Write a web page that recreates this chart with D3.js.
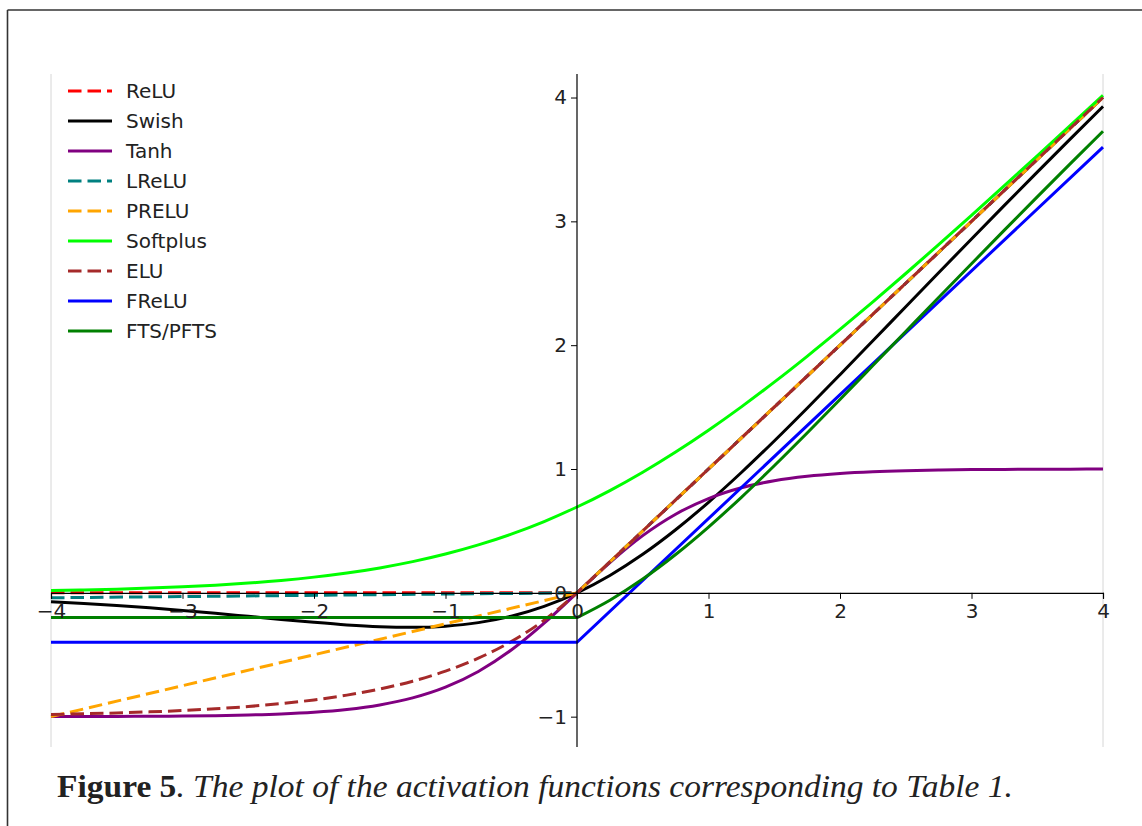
<!DOCTYPE html>
<html>
<head>
<meta charset="utf-8">
<script src="https://cdn.jsdelivr.net/npm/d3@7"></script>
<style>
  html, body { margin: 0; padding: 0; background: #fff; }
  svg { display: block; }
</style>
</head>
<body>
<svg id="chart" width="1142" height="826"></svg>
<script>
// ---------- data ----------
const xSmooth = [-4, -3.75, -3.5, -3.25, -3, -2.75, -2.5, -2.25, -2, -1.75, -1.5, -1.25, -1, -0.75, -0.5, -0.25,
                 0, 0.25, 0.5, 0.75, 1, 1.25, 1.5, 1.75, 2, 2.25, 2.5, 2.75, 3, 3.25, 3.5, 3.75, 4];

const swishY = [-0.0719, -0.0862, -0.1026, -0.1212, -0.1423, -0.1653, -0.1897, -0.2144, -0.2384, -0.2592, -0.2736, -0.2784, -0.2689, -0.2406, -0.1888, -0.1095,
                0, 0.1405, 0.3112, 0.5094, 0.7311, 0.9716, 1.2264, 1.4908, 1.7616, 2.0356, 2.3103, 2.5847, 2.8577, 3.1288, 3.3975, 3.6638, 3.9281];

const tanhY = [-0.9993, -0.9989, -0.9982, -0.9970, -0.9951, -0.9919, -0.9866, -0.9780, -0.9640, -0.9414, -0.9051, -0.8483, -0.7616, -0.6351, -0.4621, -0.2449,
               0, 0.2449, 0.4621, 0.6351, 0.7616, 0.8483, 0.9051, 0.9414, 0.9640, 0.9780, 0.9866, 0.9919, 0.9951, 0.9970, 0.9982, 0.9989, 0.9993];

const softplusY = [0.0181, 0.0233, 0.0298, 0.0381, 0.0486, 0.0619, 0.0789, 0.1002, 0.1269, 0.1602, 0.2014, 0.2519, 0.3133, 0.3869, 0.4741, 0.5759,
                   0.6931, 0.8259, 0.9741, 1.1369, 1.3133, 1.5019, 1.7014, 1.9102, 2.1269, 2.3502, 2.5789, 2.8119, 3.0486, 3.2881, 3.5298, 3.7733, 4.0181];

const eluY = [-0.9817, -0.9765, -0.9698, -0.9612, -0.9502, -0.9361, -0.9179, -0.8946, -0.8647, -0.8262, -0.7769, -0.7135, -0.6321, -0.5276, -0.3935, -0.2212,
              0, 0.25, 0.5, 0.75, 1, 1.25, 1.5, 1.75, 2, 2.25, 2.5, 2.75, 3, 3.25, 3.5, 3.75, 4];

const ftsY = [-0.2, -0.2, -0.2, -0.2, -0.2, -0.2, -0.2, -0.2, -0.2, -0.2, -0.2, -0.2, -0.2, -0.2, -0.2, -0.2,
              -0.2, -0.0595, 0.1112, 0.3094, 0.5311, 0.7716, 1.0264, 1.2908, 1.5616, 1.8356, 2.1103, 2.3847, 2.6577, 2.9288, 3.1975, 3.4638, 3.7281];

const xKink = [-4, 0, 4];
const reluY  = [0, 0, 4];
const lreluY = [-0.04, 0, 4];
const preluY = [-1, 0, 4];
const freluY = [-0.4, -0.4, 3.6];

const seriesNames  = ["ReLU", "Swish", "Tanh", "LReLU", "PRELU", "Softplus", "ELU", "FReLU", "FTS/PFTS"];
const seriesColors = ["#ff0000", "#000000", "#800080", "#008080", "#ffa500", "#00ff00", "#a52a2a", "#0000ff", "#008000"];
const seriesDashed = [true, false, false, true, true, false, true, false, false];
const seriesX      = [xKink, xSmooth, xSmooth, xKink, xKink, xSmooth, xSmooth, xKink, xSmooth];
const seriesY      = [reluY, swishY, tanhY, lreluY, preluY, softplusY, eluY, freluY, ftsY];
// "none" = straight segments, "smooth" = one smooth curve, "split" = smooth on each side of x = 0
const seriesCurve  = ["none", "smooth", "smooth", "none", "none", "smooth", "split", "none", "split"];

const xTicks = [-4, -3, -2, -1, 0, 1, 2, 3, 4];
const yTicks = [-1, 0, 1, 2, 3, 4];
const captionBold = "Figure 5";
const captionRest = ". The plot of the activation functions corresponding to Table 1.";

// ---------- drawing ----------
const svg = d3.select("#chart");
const x = d3.scaleLinear().domain([-4, 4]).range([51, 1103]);
const y = d3.scaleLinear().domain([-1.245, 4.19]).range([747, 74]);

// outer frame
svg.append("line").attr("x1", 7.5).attr("x2", 1142).attr("y1", 10).attr("y2", 10)
  .attr("stroke", "#333").attr("stroke-width", 1.6);
svg.append("line").attr("x1", 7.5).attr("x2", 7.5).attr("y1", 10).attr("y2", 826)
  .attr("stroke", "#333").attr("stroke-width", 1.6);

// faint side borders of plot area
[-4, 4].forEach(v => {
  svg.append("line").attr("x1", x(v)).attr("x2", x(v))
    .attr("y1", y.range()[1]).attr("y2", y.range()[0])
    .attr("stroke", "#d6d6d6").attr("stroke-width", 1);
});

// series
const dash = "13.5,6";
const smoothLine = d3.line().x(d => x(d[0])).y(d => y(d[1])).curve(d3.curveMonotoneX);
const straightLine = d3.line().x(d => x(d[0])).y(d => y(d[1])).curve(d3.curveLinear);
seriesNames.forEach((name, i) => {
  const pts = seriesX[i].map((xv, j) => [xv, seriesY[i][j]]);
  let d;
  if (seriesCurve[i] === "none") d = straightLine(pts);
  else if (seriesCurve[i] === "smooth") d = smoothLine(pts);
  else {
    const left = pts.filter(p => p[0] <= 0);
    const right = pts.filter(p => p[0] >= 0);
    d = smoothLine(left) + smoothLine(right).replace(/^M[^LC]*/, "");
  }
  svg.append("path")
    .attr("d", d)
    .attr("fill", "none")
    .attr("stroke", seriesColors[i])
    .attr("stroke-width", 3)
    .attr("stroke-dasharray", seriesDashed[i] ? dash : null);
});

// axes through origin
const fontAxis = "'DejaVu Sans', sans-serif";
const xAxis = d3.axisBottom(x).tickValues(xTicks).tickSize(6).tickPadding(5).tickFormat(d3.format("d"));
const gx = svg.append("g").attr("transform", `translate(0,${y(0)})`).call(xAxis);
gx.select(".domain").attr("stroke", "#000").attr("stroke-width", 1.2);
gx.selectAll(".tick line").attr("stroke", "#000").attr("stroke-width", 1);
gx.selectAll("text").attr("font-family", fontAxis).attr("font-size", 20).attr("fill", "#222");

const yAxis = d3.axisLeft(y).tickValues(yTicks).tickSize(6).tickPadding(4).tickFormat(d3.format("d"));
const gy = svg.append("g").attr("transform", `translate(${x(0)},0)`).call(yAxis);
gy.select(".domain").attr("stroke", "#000").attr("stroke-width", 1.2)
  .attr("d", `M-0,${y.range()[0]}V${y.range()[1]}`);
gy.selectAll(".tick line").attr("stroke", "#000").attr("stroke-width", 1);
gy.selectAll("text").attr("font-family", fontAxis).attr("font-size", 20).attr("fill", "#222");

// legend
const legend = svg.append("g").attr("transform", "translate(68,91)");
seriesNames.forEach((name, i) => {
  const g = legend.append("g").attr("transform", `translate(0,${i * 30})`);
  g.append("line").attr("x1", 0).attr("x2", 44).attr("y1", 0).attr("y2", 0)
    .attr("stroke", seriesColors[i]).attr("stroke-width", 3)
    .attr("stroke-dasharray", seriesDashed[i] ? dash : null);
  g.append("text").attr("x", 58).attr("y", 0).attr("dy", "0.36em")
    .attr("font-family", fontAxis).attr("font-size", 20).attr("fill", "#222")
    .text(name);
});

// caption
const cap = svg.append("text")
  .attr("x", 0).attr("y", 0)
  .attr("font-family", "'Liberation Serif', 'Times New Roman', serif")
  .attr("font-size", 32).attr("fill", "#222");
cap.append("tspan").attr("font-weight", "bold").text(captionBold);
cap.append("tspan").attr("font-style", "italic").text(captionRest);
const w = cap.node().getComputedTextLength();
const targetW = 956;
cap.attr("transform", `translate(57,797) scale(${targetW / w},1)`);
</script>
</body>
</html>
